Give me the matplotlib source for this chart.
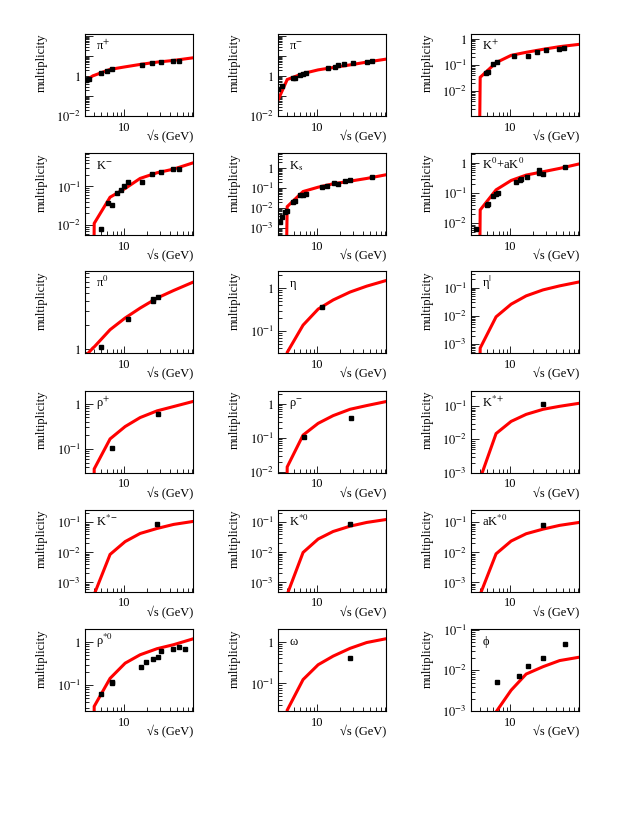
import numpy as np
import matplotlib
matplotlib.use('Agg')
import matplotlib.pyplot as plt
from matplotlib.ticker import FixedLocator, NullFormatter, FuncFormatter

plt.rcParams['font.family'] = ['Liberation Serif', 'DejaVu Serif']
plt.rcParams['mathtext.fontset'] = 'stix'

# ---------------- data ----------------
XMIN, XMAX = 3.02, 82.0
MODEL_E = [2.5, 3.85, 4.0, 6.5, 10.3, 16.3, 27.3, 45.4, 82.0]

PIP_MODEL = [0.35, 1.05, 1.10, 2.2, 2.95, 3.9, 5.1, 6.2, 8.4]
PIP_X = [3.11, 3.44, 4.93, 5.99, 6.85, 17.2, 23.4, 30.8, 45, 54]
PIP_Y = [0.63, 0.76, 1.53, 1.93, 2.25, 3.87, 4.52, 4.9, 5.5, 5.7]

PIM_MODEL = [0.0125, 0.49, 0.68, 1.36, 2.08, 2.73, 3.7, 5.1, 7.2]
PIM_X = [3.05, 3.41, 4.79, 5.04, 5.88, 6.5, 7.2, 13.8, 17.2, 19.1, 22.9, 30.2, 45.6, 54]
PIM_Y = [0.22, 0.326, 0.79, 0.86, 1.21, 1.36, 1.47, 2.63, 3.07, 3.45, 4.03, 4.7, 5.3, 5.5]

KP_MODEL = [1e-6, 1e-6, 0.0336, 0.123, 0.235, 0.307, 0.40, 0.507, 0.62]
KP_X = [4.79, 5.02, 5.86, 6.71, 11.2, 17.2, 22.9, 30.2, 44.5, 51.9]
KP_Y = [0.0478, 0.0554, 0.109, 0.134, 0.215, 0.222, 0.326, 0.367, 0.412, 0.438]

KM_MODEL = [1e-6, 1e-6, 0.011, 0.0527, 0.0887, 0.162, 0.227, 0.283, 0.41]
KM_X = [4.93, 6.18, 6.85, 8.0, 9.04, 10.0, 11.4, 17.5, 23.4, 30.8, 45, 54]
KM_Y = [0.0077, 0.0367, 0.0333, 0.0697, 0.0787, 0.106, 0.127, 0.127, 0.206, 0.236, 0.283, 0.29]

KS_MODEL = [1e-6, 1e-6, 0.0119, 0.068, 0.112, 0.166, 0.225, 0.307, 0.47]
KS_X = [3.18, 3.46, 3.71, 4.03, 4.79, 5.05, 6.0, 6.39, 7.08, 11.5, 13.6, 16.7, 19.1, 23.4, 27.3, 53]
KS_Y = [0.0021, 0.0037, 0.0067, 0.0075, 0.0213, 0.0239, 0.0461, 0.0461, 0.0518, 0.112, 0.136,
        0.179, 0.166, 0.225, 0.244, 0.345]

K0_MODEL = [1e-6, 1e-6, 0.0278, 0.129, 0.264, 0.398, 0.514, 0.664, 0.93]
K0_X = [3.51, 4.93, 5.02, 5.98, 6.5, 6.84, 12.0, 13.6, 14.0, 16.6, 23.8, 24.0, 27.7, 52.8]
K0_Y = [0.0063, 0.0398, 0.0441, 0.0815, 0.095, 0.1, 0.227, 0.264, 0.293, 0.333, 0.57, 0.464, 0.43, 0.736]

PI0_MODEL = [0.65, 1.02, 1.05, 1.73, 2.43, 3.24, 4.33, 5.4, 6.87]
PI0_X = [4.93, 11.4, 23.9, 24.1, 27.8]
PI0_Y = [1.04, 2.36, 4.2, 4.0, 4.45]

ETA_MODEL = [1e-6, 1e-6, 0.032, 0.138, 0.325, 0.53, 0.81, 1.11, 1.5]
ETA_X = [11.6]
ETA_Y = [0.36]

ETAP_MODEL = [1e-6, 1e-6, 7.2e-4, 0.0092, 0.0258, 0.0508, 0.0828, 0.115, 0.158]
ETAP_X = []
ETAP_Y = []

RHOP_MODEL = [1e-6, 1e-6, 0.036, 0.167, 0.314, 0.497, 0.699, 0.873, 1.13]
RHOP_X = [6.85, 28.1]
RHOP_Y = [0.104, 0.59]

RHOM_MODEL = [1e-6, 1e-6, 0.014, 0.121, 0.268, 0.452, 0.695, 0.893, 1.17]
RHOM_X = [6.71, 27.8]
RHOM_Y = [0.108, 0.394]

KSTP_MODEL = [1e-6, 1e-6, 6.6e-4, 0.015, 0.035, 0.057, 0.081, 0.1, 0.123]
KSTP_X = [27.0]
KSTP_Y = [0.115]

KSTM_MODEL = [1e-6, 1e-6, 4e-4, 0.0086, 0.023, 0.043, 0.063, 0.086, 0.108]
KSTM_X = [27.5]
KSTM_Y = [0.086]

KST0_MODEL = [1e-6, 1e-6, 4e-4, 0.010, 0.028, 0.050, 0.075, 0.10, 0.125]
KST0_X = [27.3]
KST0_Y = [0.09]

AKST0_MODEL = [1e-6, 1e-6, 4e-4, 0.009, 0.024, 0.042, 0.060, 0.080, 0.10]
AKST0_X = [27.3]
AKST0_Y = [0.085]

RHO0_MODEL = [1e-6, 1e-6, 0.032, 0.143, 0.322, 0.505, 0.698, 0.866, 1.18]
RHO0_X = [4.93, 6.85, 6.9, 16.9, 19.6, 23.9, 28.1, 31.1, 45, 54, 65]
RHO0_Y = [0.0606, 0.109, 0.12, 0.26, 0.352, 0.407, 0.445, 0.604, 0.685, 0.75, 0.698]

OMEGA_MODEL = [1e-6, 1e-6, 0.023, 0.124, 0.28, 0.45, 0.69, 0.95, 1.17]
OMEGA_X = [27.3]
OMEGA_Y = [0.41]

PHI_MODEL = [1e-6, 1e-6, 1e-6, 0.00095, 0.00325, 0.0081, 0.0123, 0.0174, 0.021]
PHI_X = [6.63, 13.0, 17.2, 27.2, 52.9]
PHI_Y = [0.0052, 0.0072, 0.0128, 0.0199, 0.0442]

NAMES = [r'π$^{+}$', r'π$^{-}$', r'K$^{+}$',
         r'K$^{-}$', r'K$_{\mathrm{s}}$', r'K$^{0}$+aK$^{0}$',
         r'π$^{0}$', r'η', r'η$^{|}$',
         r'ρ$^{+}$', r'ρ$^{-}$', r'K$^{*+}$',
         r'K$^{*-}$', r'K$^{*0}$', r'aK$^{*0}$',
         r'ρ$^{*0}$', r'ω', r'ϕ']

YLIMS = [(0.01, 132), (0.01, 132), (1.1e-3, 1.55),
         (0.0055, 0.74), (4.5e-4, 5.8), (0.0041, 2.15),
         (0.88, 9.5), (0.031, 2.5), (4.8e-4, 0.387),
         (0.030, 1.98), (0.0096, 2.48), (1e-3, 0.3),
         (5e-4, 0.27), (5e-4, 0.27), (5e-4, 0.27),
         (0.025, 2.0), (0.022, 2.0), (1e-3, 0.104)]

YLABELS = [[1e-2, 1], [1e-2, 1], [1e-2, 1e-1, 1],
           [1e-2, 1e-1], [1e-3, 1e-2, 1e-1, 1], [1e-2, 1e-1, 1],
           [1], [1e-1, 1], [1e-3, 1e-2, 1e-1],
           [1e-1, 1], [1e-2, 1e-1, 1], [1e-3, 1e-2, 1e-1],
           [1e-3, 1e-2, 1e-1], [1e-3, 1e-2, 1e-1], [1e-3, 1e-2, 1e-1],
           [1e-1, 1], [1e-1, 1], [1e-3, 1e-2, 1e-1]]

MODELS = [PIP_MODEL, PIM_MODEL, KP_MODEL, KM_MODEL, KS_MODEL, K0_MODEL,
          PI0_MODEL, ETA_MODEL, ETAP_MODEL, RHOP_MODEL, RHOM_MODEL, KSTP_MODEL,
          KSTM_MODEL, KST0_MODEL, AKST0_MODEL, RHO0_MODEL, OMEGA_MODEL, PHI_MODEL]
DATA_X = [PIP_X, PIM_X, KP_X, KM_X, KS_X, K0_X, PI0_X, ETA_X, ETAP_X,
          RHOP_X, RHOM_X, KSTP_X, KSTM_X, KST0_X, AKST0_X, RHO0_X, OMEGA_X, PHI_X]
DATA_Y = [PIP_Y, PIM_Y, KP_Y, KM_Y, KS_Y, K0_Y, PI0_Y, ETA_Y, ETAP_Y,
          RHOP_Y, RHOM_Y, KSTP_Y, KSTM_Y, KST0_Y, AKST0_Y, RHO0_Y, OMEGA_Y, PHI_Y]

# ---------------- layout ----------------
W, H = 638, 825
fig = plt.figure(figsize=(W / 100, H / 100), dpi=100)
COL_LEFT = [85, 278, 471]
ROW_TOP = [34, 153, 271, 390.5, 509.5, 629]
AX_W, AX_H = 108, 82
FS = 9.0


def make_fmt(labels):
    def f(v, pos):
        for l in labels:
            if abs(np.log10(v) - np.log10(l)) < 1e-6:
                e = int(round(np.log10(v)))
                if e == 0:
                    return r'$1^{\ \ \ \,}$'
                if e == 1:
                    return '10'
                return r'$10^{%d}$' % e
        return ''
    return f


decades = 10.0 ** np.arange(-7, 4)
minors = [d * k for d in decades for k in range(2, 10)]

for i in range(18):
    r, c = divmod(i, 3)
    left = COL_LEFT[c] / W
    bottom = 1 - (ROW_TOP[r] + AX_H) / H
    ax = fig.add_axes([left, bottom, AX_W / W, AX_H / H])
    ax.set_xscale('log')
    ax.set_yscale('log')
    ax.plot(MODEL_E, MODELS[i], color='#ff0000', lw=2.2, solid_joinstyle='miter', zorder=2)
    if len(DATA_X[i]):
        ax.plot(DATA_X[i], DATA_Y[i], 's', color='black', ms=3.0, zorder=3)
    ax.set_xlim(XMIN, XMAX)
    ax.set_ylim(*YLIMS[i])

    ax.xaxis.set_major_locator(FixedLocator([10]))
    ax.xaxis.set_major_formatter(FuncFormatter(lambda v, p: '10'))
    ax.xaxis.set_minor_locator(FixedLocator([4, 5, 6, 7, 8, 9, 20, 30, 40, 50, 60, 70, 80]))
    ax.xaxis.set_minor_formatter(NullFormatter())
    ax.yaxis.set_major_locator(FixedLocator(decades))
    ax.yaxis.set_major_formatter(FuncFormatter(make_fmt(YLABELS[i])))
    ax.yaxis.set_minor_locator(FixedLocator(minors))
    ax.yaxis.set_minor_formatter(NullFormatter())
    ax.tick_params(which='both', direction='in', top=False, right=False,
                   labelsize=FS, width=0.6, color='black')
    ax.tick_params(axis='y', which='major', length=6, pad=3)
    ax.tick_params(axis='y', which='minor', length=3)
    ax.tick_params(axis='x', which='major', length=5, pad=4)
    ax.tick_params(axis='x', which='minor', length=3)
    for s in ax.spines.values():
        s.set_linewidth(0.8)

    ax.text(0.105, 0.80, NAMES[i], transform=ax.transAxes, fontsize=FS,
            ha='left', va='baseline')
    ax.text(-0.40, 1.0, 'multiplicity', transform=ax.transAxes, fontsize=FS,
            rotation=90, ha='center', va='top')
    ax.text(1.0, -0.255, '√s (GeV)', transform=ax.transAxes, fontsize=FS,
            ha='right', va='center')

fig.savefig('out.png', dpi=100)
